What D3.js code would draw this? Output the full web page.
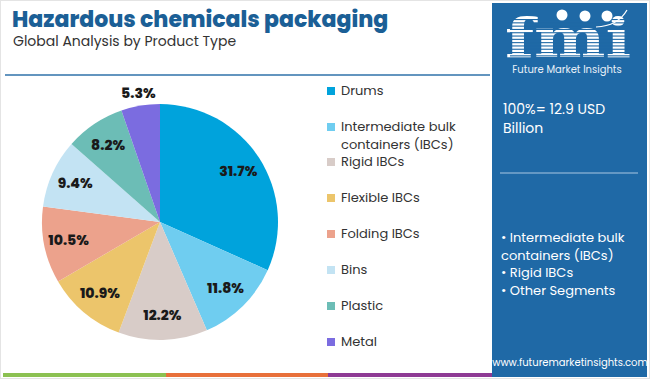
<!DOCTYPE html>
<html><head><meta charset="utf-8">
<script src="https://cdn.jsdelivr.net/npm/d3@7"></script>
<style>body{margin:0;background:#fff;}svg{display:block;font-family:Poppins,"Open Sans","Noto Sans",sans-serif;}</style>
</head><body>
<svg id="c" width="650" height="379"></svg>
<script>
const categories = ["Drums","Intermediate bulk containers (IBCs)","Rigid IBCs","Flexible IBCs","Folding IBCs","Bins","Plastic","Metal"];
const legendLines = [["Drums"],["Intermediate bulk","containers (IBCs)"],["Rigid IBCs"],["Flexible IBCs"],["Folding IBCs"],["Bins"],["Plastic"],["Metal"]];
const values = [31.7,11.8,12.2,10.9,10.5,9.4,8.2,5.3];
const colors = ["#00a3dc","#6fcdf0","#d8ccc8","#ecc56b","#eca28c","#c3e3f3","#6cbdb6","#7b6ce0"];
const panelLines = ["100%= 12.9 USD","Billion"];
const bullets = ["• Intermediate bulk","containers (IBCs)","• Rigid IBCs","• Other Segments"];

const svg = d3.select("#c");
svg.append("rect").attr("x",0.5).attr("y",0.5).attr("width",649).attr("height",378).attr("fill","#fff").attr("stroke","#e4e4e4");

svg.append("text").attr("x",12).attr("y",27).attr("font-size",22).attr("font-weight",800)
  .attr("fill","#1b5f96").text("Hazardous chemicals packaging");
svg.append("text").attr("x",13).attr("y",46).attr("font-size",14).attr("fill","#333").text("Global Analysis by Product Type");
svg.append("line").attr("x1",5).attr("x2",490).attr("y1",75).attr("y2",75).attr("stroke","#2f72aa").attr("stroke-width",1.5);

[["#8cc152",3,166],["#e8703a",166,328],["#8e3a94",328,492]].forEach(([c,a,b])=>{
  svg.append("rect").attr("x",a).attr("y",373).attr("width",b-a).attr("height",4).attr("fill",c);
});

// pie
const cx=160, cy=222, r=118;
const pie = d3.pie().sort(null).value(d=>d);
const arcs = pie(values);
const arc = d3.arc().innerRadius(0).outerRadius(r);
const g = svg.append("g").attr("transform",`translate(${cx},${cy})`);
g.selectAll("path").data(arcs).join("path").attr("d",arc).attr("fill",(d,i)=>colors[i]);
const lab = d3.arc().innerRadius(r*0.79).outerRadius(r*0.79);
const labOut = d3.arc().innerRadius(r*1.11).outerRadius(r*1.11);
g.selectAll("text").data(arcs).join("text")
  .attr("transform",(d,i)=>{
    const p = (i===7? labOut : lab).centroid(d);
    return `translate(${p[0]},${p[1]})`;
  })
  .attr("text-anchor","middle").attr("dy","0.36em")
  .attr("font-size",14).attr("font-weight",800).attr("fill","#1a1a1a")
  .text(d=>d.value.toFixed(1)+"%");

// legend
const ly = [95,131,166,202,238,274,310,346];
legendLines.forEach((lines,i)=>{
  svg.append("rect").attr("x",327).attr("y",ly[i]-8).attr("width",8).attr("height",8).attr("fill",colors[i]);
  lines.forEach((t,j)=>{
    svg.append("text").attr("x",341).attr("y",ly[i]+j*18).attr("font-size",13).attr("fill","#333").text(t);
  });
});

// panel
svg.append("rect").attr("x",492).attr("y",3).attr("width",155).attr("height",374).attr("fill","#1f69a6");
const lg = svg.append("g");
lg.append("text").attr("x",0).attr("y",0).attr("text-anchor","middle").attr("font-size",54)
  .attr("font-weight",700).attr("font-family","'DejaVu Serif',serif").attr("fill","#fff")
  .attr("transform","translate(568,57) scale(1.25,1)").text("fmi");
for(let y=19;y<58;y+=3.3){
  lg.append("rect").attr("x",510).attr("y",y).attr("width",120).attr("height",1.1).attr("fill","#1f69a6");
}
[[562,15],[585,16],[607,16]].forEach(([x,y])=>{
  lg.append("circle").attr("cx",x).attr("cy",y).attr("r",5.5).attr("fill","#fff");
});
lg.append("path").attr("d","M596,27 Q618,26 627,10").attr("fill","none").attr("stroke","#fff").attr("stroke-width",1.2);
svg.append("text").attr("x",567).attr("y",73).attr("text-anchor","middle").attr("font-size",10).attr("fill","#e8f0f8").text("Future Market Insights");

panelLines.forEach((t,i)=>{
  svg.append("text").attr("x",503).attr("y",114+i*19).attr("font-size",14).attr("fill","#fff").text(t);
});
svg.append("line").attr("x1",500).attr("x2",638).attr("y1",173).attr("y2",173).attr("stroke","#a9c8e2").attr("stroke-width",1.2);
bullets.forEach((t,i)=>{
  svg.append("text").attr("x",501).attr("y",242+i*17.7).attr("font-size",13).attr("fill","#fff").text(t);
});
svg.append("text").attr("x",570).attr("y",366).attr("text-anchor","middle").attr("font-size",10).attr("fill","#fff").text("www.futuremarketinsights.com");
</script>
</body></html>
